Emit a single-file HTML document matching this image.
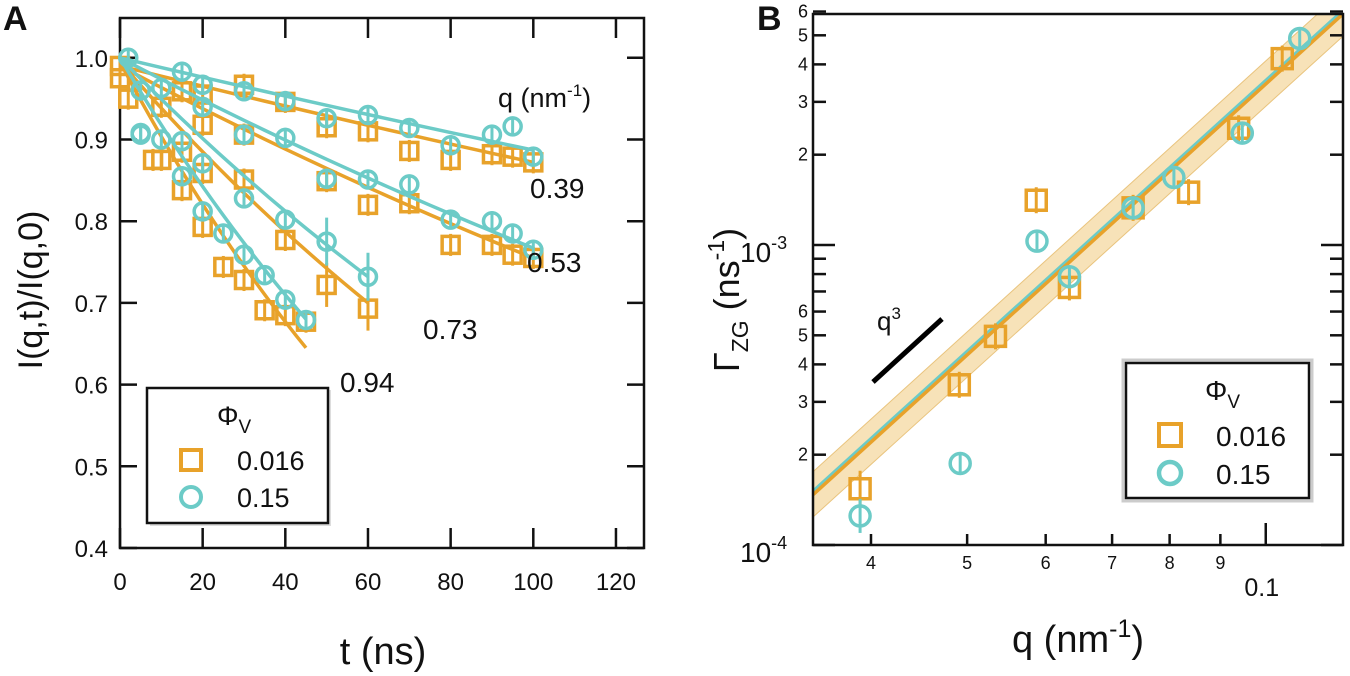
<!DOCTYPE html>
<html><head><meta charset="utf-8"><style>
html,body{margin:0;padding:0;background:#fff}
svg{display:block;font-family:"Liberation Sans",sans-serif}
</style></head><body>
<svg id="fig" width="1350" height="676" viewBox="0 0 1350 676" xmlns="http://www.w3.org/2000/svg">
<g id="pa"></g>
<g id="pb"></g>
</svg>
<script>
// ---------- Panel A data ----------
const aXTicks = [0,20,40,60,80,100,120];
const aYTicks = [0.4,0.5,0.6,0.7,0.8,0.9,1.0];
const aQLabels = ["0.39","0.53","0.73","0.94"];
// orange (phi=0.016)
const aT_o39 = [0,15,20,30,40,50,60,70,80,90,95,100];
const aV_o39 = [0.99,0.959,0.955,0.967,0.946,0.915,0.91,0.886,0.875,0.882,0.879,0.872];
const aT_c39 = [2,15,20,30,40,50,60,70,80,90,95,100];
const aV_c39 = [1.0,0.983,0.967,0.959,0.947,0.926,0.930,0.914,0.893,0.906,0.916,0.879];
const aT_o53 = [0,10,20,30,50,60,70,80,90,95,100];
const aV_o53 = [0.975,0.94,0.918,0.906,0.849,0.82,0.822,0.771,0.771,0.759,0.755];
const aT_c53 = [5,10,20,30,40,50,60,70,80,90,95,100];
const aV_c53 = [0.96,0.963,0.94,0.906,0.902,0.852,0.851,0.845,0.802,0.8,0.785,0.765];
const aT_o73 = [2,10,15,20,30,40,50,60];
const aV_o73 = [0.95,0.875,0.885,0.859,0.851,0.777,0.722,0.693];
const aT_c73 = [5,15,20,30,40,50,60];
const aV_c73 = [0.906,0.898,0.871,0.828,0.802,0.775,0.732];
const aT_o94 = [8,15,20,25,30,35,40,45];
const aV_o94 = [0.875,0.838,0.793,0.744,0.728,0.691,0.685,0.677];
const aT_c94 = [5,10,15,20,25,30,35,40,45];
const aV_c94 = [0.908,0.90,0.855,0.812,0.785,0.759,0.734,0.704,0.679];
// fit endpoints: [start value, end value, end time]
const aFitO = [[0.99,0.872,100],[0.99,0.755,100],[0.995,0.70,60],[0.995,0.645,45]];
const aFitC = [[1.0,0.887,100],[1.0,0.767,100],[1.0,0.732,60],[1.0,0.68,45]];

// ---------- Panel B data ----------
const bQ_o = [0.0390,0.0491,0.0534,0.0587,0.0634,0.0735,0.0836,0.0939,0.1039];
const bG_o = [1.54e-4,3.42e-4,4.96e-4,1.41e-3,7.22e-4,1.33e-3,1.50e-3,2.45e-3,4.18e-3];
const bQ_c = [0.0390,0.0492,0.0588,0.0634,0.0735,0.0808,0.0947,0.1082];
const bG_c = [1.25e-4,1.87e-4,1.03e-3,7.84e-4,1.33e-3,1.68e-3,2.36e-3,4.88e-3];
const bFitAmpO = 3.45, bFitAmpC = 3.55, bBandFactor = 1.19;
const bXTickVals = [0.04,0.05,0.06,0.07,0.08,0.09];
const bXTickLabels = ["4","5","6","7","8","9"];

const NS="http://www.w3.org/2000/svg";
const OR="#E8A22A", CY="#6CCBC7";
function mk(parent,tag,attrs,txt){const e=document.createElementNS(NS,tag);for(const k in attrs)e.setAttribute(k,attrs[k]);if(txt!==undefined)e.textContent=txt;parent.appendChild(e);return e;}

// ===== Panel A =====
const pa=document.getElementById('pa');
const aL=120,aR=644,aT=18,aB=548;
const ax=t=>aL+t*4.133;
const ay=v=>548-(v-0.4)*817;
let e;
e=mk(pa,'rect',{x:aL,y:aT,width:aR-aL,height:aB-aT,fill:'none',stroke:'#111','stroke-width':2.5});


aXTicks.forEach(t=>{
  mk(pa,'line',{x1:ax(t),x2:ax(t),y1:aB,y2:aB-20,stroke:'#111','stroke-width':2.5});
  mk(pa,'line',{x1:ax(t),x2:ax(t),y1:aT,y2:aT+20,stroke:'#111','stroke-width':2.5});
  e=mk(pa,'text',{x:ax(t),y:590,'font-size':24,'text-anchor':'middle',fill:'#111'},String(t));
  
  
});
aYTicks.forEach(v=>{
  mk(pa,'line',{x1:aL,x2:aL+17,y1:ay(v),y2:ay(v),stroke:'#111','stroke-width':2.5});
  mk(pa,'line',{x1:aR,x2:aR-17,y1:ay(v),y2:ay(v),stroke:'#111','stroke-width':2.5});
  e=mk(pa,'text',{x:108,y:ay(v)+9,'font-size':24,'text-anchor':'end',fill:'#111'},v.toFixed(1));
  
  
});
function fitLine(g,f,col){
  const k=Math.log(f[0]/f[1])/f[2];let pts=[];
  for(let i=0;i<=20;i++){const t=f[2]*i/20;pts.push(ax(t)+','+ay(f[0]*Math.exp(-k*t)));}
  e=mk(g,'polyline',{points:pts.join(' '),fill:'none',stroke:col,'stroke-width':3.5});
  
  
}
function sq(g,x,y,s,col,sw){e=mk(g,'rect',{x:x-s/2,y:y-s/2,width:s,height:s,fill:'none',stroke:col,'stroke-width':sw});}
function ci(g,x,y,r,col,sw){e=mk(g,'circle',{cx:x,cy:y,r:r,fill:'none',stroke:col,'stroke-width':sw});}
function errbar(g,x,y,h,col){mk(g,'line',{x1:x,x2:x,y1:y-h,y2:y+h,stroke:col,'stroke-width':3});}
const setsO=[[aT_o39,aV_o39],[aT_o53,aV_o53],[aT_o73,aV_o73],[aT_o94,aV_o94]];
const setsC=[[aT_c39,aV_c39],[aT_c53,aV_c53],[aT_c73,aV_c73],[aT_c94,aV_c94]];
const gO=mk(pa,'g',{});
const gC=mk(pa,'g',{});
setsO.forEach((s,i)=>{fitLine(gO,aFitO[i],OR);s[0].forEach((t,j)=>{const x=ax(s[0][j]),y=ay(s[1][j]);errbar(gO,x,y,(i>=2&&t>=50)?22:11,OR);sq(gO,x,y,17,OR,3.5);});});
setsC.forEach((s,i)=>{fitLine(gC,aFitC[i],CY);s[0].forEach((t,j)=>{const x=ax(s[0][j]),y=ay(s[1][j]);errbar(gC,x,y,(i==2&&t>=50)?24:10,CY);ci(gC,x,y,8.5,CY,3.5);});});
// q labels
const qPos=[[530,198],[527,272],[423,339],[340,392]];
aQLabels.forEach((l,i)=>{e=mk(pa,'text',{x:qPos[i][0],y:qPos[i][1],'font-size':28,fill:'#111'},l);});
e=mk(pa,'text',{x:498,y:107,'font-size':27,fill:'#111'});e.innerHTML='q (nm<tspan dy="-11" font-size="17">-1</tspan><tspan dy="11">)</tspan>';

// legend A
const lgA=mk(pa,'g',{});
mk(lgA,'rect',{x:150,y:390,width:181,height:136,fill:'#ddd'});
mk(lgA,'rect',{x:147,y:388,width:181,height:135,fill:'#fff',stroke:'#111','stroke-width':2.5});
e=mk(lgA,'text',{x:217,y:425,'font-size':27,fill:'#111'});e.innerHTML='Φ<tspan dy="8" font-size="19">V</tspan>';
sq(lgA,191,460,20,OR,4);ci(lgA,191,497,10,CY,4);
mk(lgA,'text',{x:237,y:470,'font-size':27,fill:'#111'},'0.016');
mk(lgA,'text',{x:237,y:507,'font-size':27,fill:'#111'},'0.15');
e=mk(pa,'text',{x:0,y:0,'font-size':34,fill:'#111','text-anchor':'middle',transform:'translate(42,290) rotate(-90)'},'I(q,t)/I(q,0)');

e=mk(pa,'text',{x:383,y:664,'font-size':38,fill:'#111','text-anchor':'middle'},'t (ns)');

e=mk(pa,'text',{x:3,y:30,'font-size':34,'font-weight':'bold',fill:'#111'},'A');


// ===== Panel B =====
const pb=document.getElementById('pb');
const bL=813,bR=1343,bT=14,bB=545;
const bx=q=>871+992*Math.log10(q/0.04);
const by=g=>245-300*Math.log10(g/1e-3);
const qMin=0.04*Math.pow(10,(bL-871)/992), qMax=0.04*Math.pow(10,(bR-871)/992);
const clip=mk(pb,'clipPath',{id:'bclip'});mk(clip,'rect',{x:bL,y:bT,width:bR-bL,height:bB-bT});
const fg=mk(pb,'g',{'clip-path':'url(#bclip)'});
// band
e=mk(fg,'polygon',{points:[bx(qMin)+','+by(bFitAmpO*qMin**3*bBandFactor),bx(qMax)+','+by(bFitAmpO*qMax**3*bBandFactor),bx(qMax)+','+by(bFitAmpO*qMax**3/bBandFactor),bx(qMin)+','+by(bFitAmpO*qMin**3/bBandFactor)].join(' '),fill:'#F7E2B8',stroke:'#E9C47E','stroke-width':1});

e=mk(fg,'line',{x1:bx(qMin),y1:by(bFitAmpO*qMin**3),x2:bx(qMax),y2:by(bFitAmpO*qMax**3),stroke:OR,'stroke-width':4});

e=mk(fg,'line',{x1:bx(qMin),y1:by(bFitAmpC*qMin**3),x2:bx(qMax),y2:by(bFitAmpC*qMax**3),stroke:CY,'stroke-width':2.5});

e=mk(pb,'rect',{x:bL,y:bT,width:bR-bL,height:bB-bT,fill:'none',stroke:'#111','stroke-width':2.5});

// y ticks
[1e-4,1e-3].forEach(v=>{mk(pb,'line',{x1:bL,x2:bL+22,y1:by(v),y2:by(v),stroke:'#111','stroke-width':2.5});mk(pb,'line',{x1:bR,x2:bR-22,y1:by(v),y2:by(v),stroke:'#111','stroke-width':2.5});});
[1e-4,1e-3].forEach(d=>{[2,3,4,5,6,7,8,9].forEach(m=>{const v=d*m;const y=by(v);if(y<bT-4)return;
  mk(pb,'line',{x1:bL,x2:bL+13,y1:y,y2:y,stroke:'#111','stroke-width':2.5});mk(pb,'line',{x1:bR,x2:bR-13,y1:y,y2:y,stroke:'#111','stroke-width':2.5});
  if(m<=6){e=mk(pb,'text',{x:803,y:y+6,'font-size':18,'text-anchor':'middle',fill:'#111'},String(m));}
});});
e=mk(pb,'text',{x:740,y:262,'font-size':28,fill:'#111'});e.innerHTML='10<tspan dy="-13" font-size="18">-3</tspan>';

e=mk(pb,'text',{x:740,y:562,'font-size':28,fill:'#111'});e.innerHTML='10<tspan dy="-13" font-size="18">-4</tspan>';

// x ticks
bXTickVals.forEach((q,i)=>{mk(pb,'line',{x1:bx(q),x2:bx(q),y1:bB,y2:bB-11,stroke:'#111','stroke-width':2.5});
  e=mk(pb,'text',{x:bx(q),y:569,'font-size':18,'text-anchor':'middle',fill:'#111'},bXTickLabels[i]);});
mk(pb,'line',{x1:bx(0.1),x2:bx(0.1),y1:bB,y2:bB-22,stroke:'#111','stroke-width':2.5});
e=mk(pb,'text',{x:bx(0.1)-4,y:596,'font-size':25,'text-anchor':'middle',fill:'#111'},'0.1');

// markers
const gbO=mk(pb,'g',{});
const gbC=mk(pb,'g',{});
bQ_o.forEach((q,i)=>{const x=bx(q),y=by(bG_o[i]);errbar(gbO,x,y,i==0?18:13,OR);sq(gbO,x,y,20,OR,3.5);});
bQ_c.forEach((q,i)=>{const x=bx(q),y=by(bG_c[i]);errbar(gbC,x,y,i==0?17:11,CY);ci(gbC,x,y,10,CY,3.5);});
// q^3 guide
e=mk(pb,'line',{x1:873,y1:382,x2:942,y2:319,stroke:'#000','stroke-width':5});

e=mk(pb,'text',{x:877,y:330,'font-size':26,fill:'#111'});e.innerHTML='q<tspan dy="-11" font-size="17">3</tspan>';

// legend B
const lgB=mk(pb,'g',{});
mk(lgB,'rect',{x:1123,y:360,width:189,height:141,fill:'#fff',stroke:'#ccc','stroke-width':3});
mk(lgB,'rect',{x:1126,y:363,width:183,height:135,fill:'#fff',stroke:'#111','stroke-width':2.5});
e=mk(lgB,'text',{x:1205,y:400,'font-size':28,fill:'#111'});e.innerHTML='Φ<tspan dy="8" font-size="19">V</tspan>';
sq(lgB,1170,435,22,OR,4);ci(lgB,1170,473,11,CY,4.5);
mk(lgB,'text',{x:1216,y:446,'font-size':28,fill:'#111'},'0.016');
mk(lgB,'text',{x:1216,y:484,'font-size':28,fill:'#111'},'0.15');
e=mk(pb,'text',{x:0,y:0,'font-size':36,fill:'#111','text-anchor':'middle',transform:'translate(739,300) rotate(-90)'});
e.innerHTML='Γ<tspan dy="9" font-size="23">ZG</tspan><tspan dy="-9"> (ns</tspan><tspan dy="-15" font-size="23">-1</tspan><tspan dy="15">)</tspan>';

e=mk(pb,'text',{x:1078,y:652,'font-size':38,fill:'#111','text-anchor':'middle'});
e.innerHTML='q (nm<tspan dy="-15" font-size="25">-1</tspan><tspan dy="15">)</tspan>';

e=mk(pb,'text',{x:757,y:30,'font-size':34,'font-weight':'bold',fill:'#111'},'B');

</script>
</body></html>
